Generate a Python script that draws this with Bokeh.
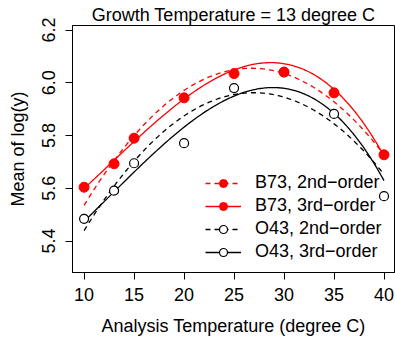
import numpy as np
from bokeh.plotting import figure
from bokeh.models import Range1d, FixedTicker, Legend, LegendItem, Title
from bokeh.embed import file_html
from bokeh.resources import INLINE

# Analysis temperatures (degree C) and mean log responses per line
temps = [10, 13, 15, 20, 25, 30, 35, 40]
b73_means = [5.604, 5.693, 5.790, 5.943, 6.035, 6.041, 5.962, 5.727]
o43_means = [5.484, 5.591, 5.695, 5.771, 5.980, 6.040, 5.882, 5.570]

# Fitted values of the 2nd- and 3rd-order models at selected temperatures
fit_temps = [10, 15, 20, 25, 30, 35, 40]
b73_quad_fit = [5.548, 5.788, 5.958, 6.050, 6.045, 5.945, 5.713]
b73_cubic_fit = [5.600, 5.775, 5.943, 6.043, 6.080, 5.970, 5.724]
o43_quad_fit = [5.447, 5.694, 5.872, 5.951, 5.945, 5.866, 5.640]
o43_cubic_fit = [5.475, 5.663, 5.825, 5.958, 5.977, 5.882, 5.630]

x_ticks = [10, 15, 20, 25, 30, 35, 40]
y_ticks = [5.4, 5.6, 5.8, 6.0, 6.2]
y_tick_labels = {5.4: "5.4", 5.6: "5.6", 5.8: "5.8", 6.0: "6.0", 6.2: "6.2"}

FONT = "Liberation Sans"

p = figure(frame_width=322, frame_height=247, output_backend="svg",
           toolbar_location=None,
           x_range=Range1d(8.84, 41.05), y_range=Range1d(5.2806, 6.2174),
           min_border_left=72, min_border_right=1, min_border_top=25,
           min_border_bottom=65)
p.grid.visible = False
p.background_fill_color = "white"
p.border_fill_color = "white"
p.outline_line_color = "black"
p.outline_line_width = 1

for ax in (p.xaxis[0], p.yaxis[0]):
    ax.axis_line_color = "black"
    ax.major_tick_line_color = "black"
    ax.major_tick_out = 7
    ax.major_tick_in = 0
    ax.minor_tick_line_color = None
    ax.major_label_text_font = FONT
    ax.major_label_text_font_size = "18px"
    ax.major_label_text_color = "black"
    ax.axis_label_text_font = FONT
    ax.axis_label_text_font_size = "18px"
    ax.axis_label_text_font_style = "normal"
    ax.axis_label_text_color = "black"

p.xaxis.ticker = FixedTicker(ticks=x_ticks)
p.xaxis.axis_label = "Analysis Temperature (degree C)"
p.xaxis.major_label_standoff = 8
p.xaxis.axis_label_standoff = 12

p.yaxis.ticker = FixedTicker(ticks=y_ticks)
p.yaxis.major_label_overrides = y_tick_labels
p.yaxis.major_label_orientation = "vertical"
p.yaxis.axis_label = "Mean of log(y)"
p.yaxis.major_label_standoff = 10
p.yaxis.axis_label_standoff = 12

p.add_layout(Title(text="Growth Temperature = 13 degree C", align="center",
                   text_font=FONT, text_font_size="18px",
                   text_font_style="normal", text_color="black",
                   standoff=2, offset=0), "above")

# smooth polynomial curves through the fitted values
xs = np.linspace(10, 40, 200)
def curve(values, order):
    return np.polyval(np.polyfit(fit_temps, values, order), xs)

RED = "#FF0000"
b73_q = p.line(xs, curve(b73_quad_fit, 2), line_color=RED, line_width=1.3, line_dash="5 4")
b73_c = p.line(xs, curve(b73_cubic_fit, 3), line_color=RED, line_width=1.3)
o43_q = p.line(xs, curve(o43_quad_fit, 2), line_color="black", line_width=1.3, line_dash="5 4")
o43_c = p.line(xs, curve(o43_cubic_fit, 3), line_color="black", line_width=1.3)

o43_pts = p.scatter(temps, o43_means, size=9, marker="circle",
                    fill_color="white", line_color="black", line_width=1.2)
b73_pts = p.scatter(temps, b73_means, size=10, marker="circle",
                    fill_color=RED, line_color=RED, line_width=1)

legend = Legend(items=[
    LegendItem(label="B73, 2nd\u2212order", renderers=[b73_q, b73_pts]),
    LegendItem(label="B73, 3rd\u2212order", renderers=[b73_c, b73_pts]),
    LegendItem(label="O43, 2nd\u2212order", renderers=[o43_q, o43_pts]),
    LegendItem(label="O43, 3rd\u2212order", renderers=[o43_c, o43_pts]),
], location=(133, 10), orientation="vertical")
legend.background_fill_alpha = 0
legend.border_line_color = None
legend.padding = 0
legend.margin = 0
legend.spacing = 2
legend.glyph_width = 36
legend.glyph_height = 20
legend.label_height = 20
legend.label_standoff = 14
legend.label_text_font = FONT
legend.label_text_font_size = "18px"
legend.label_text_color = "black"
p.add_layout(legend, "center")

open("out.html", "w").write(file_html(p, INLINE))
